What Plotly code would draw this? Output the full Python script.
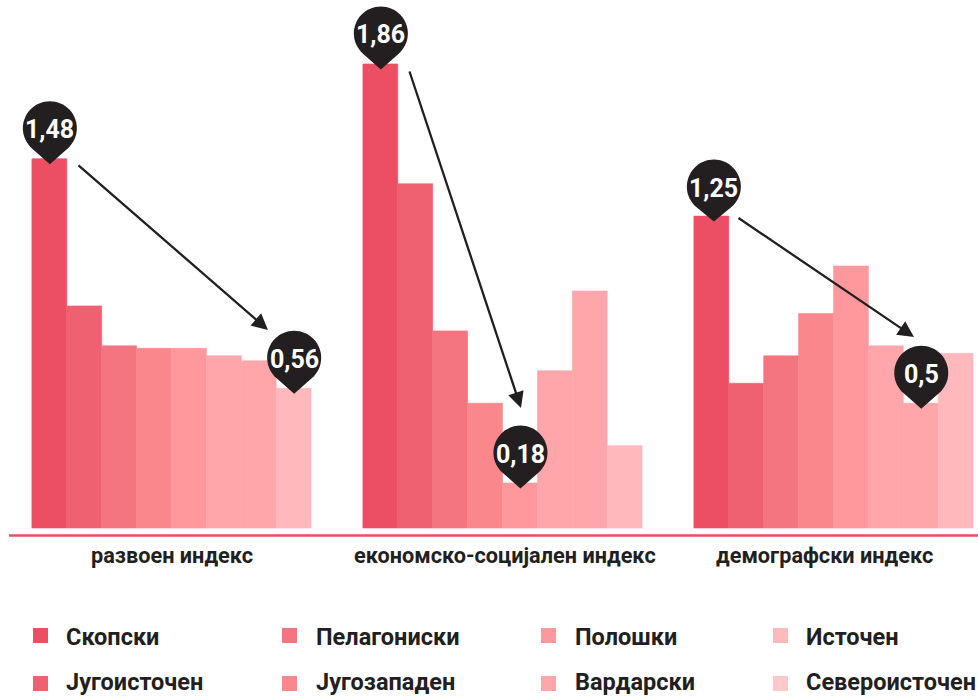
import math
import plotly.graph_objects as go

groups = ["развоен индекс", "економско-социјален индекс", "демографски индекс"]
series = ["Скопски", "Југоисточен", "Пелагониски", "Југозападен", "Полошки", "Вардарски", "Источен", "Североисточен"]
values = {
    "Скопски": [1.48, 1.86, 1.25],
    "Југоисточен": [0.89, 1.38, 0.58],
    "Пелагониски": [0.73, 0.79, 0.69],
    "Југозападен": [0.72, 0.50, 0.86],
    "Полошки": [0.72, 0.18, 1.05],
    "Вардарски": [0.69, 0.63, 0.73],
    "Источен": [0.67, 0.95, 0.50],
    "Североисточен": [0.56, 0.33, 0.70],
}
bar_colors = ["#ec4f64", "#ef6170", "#f4757f", "#fa878c", "#ff989d", "#ffa6ab", "#ffa6ab", "#ffb9bd"]
legend_colors = ["#ec4f64", "#ef6170", "#f4757f", "#fa878c", "#ff989d", "#ffa6ab", "#ffb9bd", "#ffc9cc"]
pins = [("Скопски", 0, "1,48", 0.5, 0), ("Североисточен", 0, "0,56", 0.5, 0), ("Скопски", 1, "1,86", 0.5, 0),
        ("Полошки", 1, "0,18", 0.5, 0), ("Скопски", 2, "1,25", 2.5, -1), ("Источен", 2, "0,5", 0.5, 0)]
arrows = [(77, 164, 268, 330), (409, 70, 521, 408), (737, 217, 914, 337)]

W, H = 978, 698
DARK = "#231f20"
FONT = "Roboto"
PX_UNIT = 249.5
BASE = 528
CAT = 331.0
C0 = 171.5
BW = 34.9

def fx(p): return p / W
def fy(p): return 1 - p / H

def pin_path(dx=0.0, dy=0.0, cy=30.5, r=27.0, tip=-5.5, n=6):
    # tangent points lie `comp` radians either side of straight down from the circle centre
    comp = math.acos(r / (cy - tip))
    step = (2 * math.pi - 2 * comp) / n
    ang = -math.pi / 2 + comp
    k = 4 / 3 * math.tan(step / 4)
    cy += dy
    x = r * math.cos(ang)
    y = cy + r * math.sin(ang)
    p = f"M {dx} {tip} L {x + dx:.2f} {y:.2f}"
    for _ in range(n):
        nxt = ang + step
        x1 = r * (math.cos(ang) - k * math.sin(ang))
        y1 = cy + r * (math.sin(ang) + k * math.cos(ang))
        x3 = r * math.cos(nxt)
        y3 = cy + r * math.sin(nxt)
        x2 = x3 + r * k * math.sin(nxt)
        y2 = y3 - r * k * math.cos(nxt)
        p += f" C {x1 + dx:.2f} {y1:.2f} {x2 + dx:.2f} {y2:.2f} {x3 + dx:.2f} {y3:.2f}"
        ang = nxt
    return p + " Z"

fig = go.Figure()
for s, c in zip(series, bar_colors):
    fig.add_bar(x=[0, 1, 2], y=values[s], name=s, marker=dict(color=c, line=dict(width=0.6, color=c)), showlegend=False)

shapes = [dict(type="line", xref="paper", yref="paper", x0=fx(9), x1=1, y0=fy(535.5), y1=fy(535.5),
               line=dict(color="#e94e62", width=2.5))]
annots = []

label_cx = [172, 505, 824]
for g, cx in zip(groups, label_cx):
    annots.append(dict(text=g, xref="paper", yref="paper", x=fx(cx), y=fy(555), xanchor="center", yanchor="middle",
                       showarrow=False, font=dict(family=FONT, size=21.7, color=DARK, weight="bold")))

cols = [33, 282, 541, 773]
txts = [64, 314, 573, 804]
rows = [635.5, 683.5]
text_bottom = [652.5, 698]
order = [0, 2, 4, 6, 1, 3, 5, 7]
for k, idx in enumerate(order):
    col = k % 4
    row = k // 4
    shapes.append(dict(type="rect", xref="paper", yref="paper", x0=fx(cols[col]), x1=fx(cols[col] + 15),
                       y0=fy(rows[row] - 7.5), y1=fy(rows[row] + 7.5), fillcolor=legend_colors[idx], line=dict(width=0)))
    annots.append(dict(text=series[idx], xref="paper", yref="paper", x=fx(txts[col]), y=fy(text_bottom[row]), xanchor="left",
                       yanchor="bottom", showarrow=False, font=dict(family=FONT, size=23.5, color=DARK, weight="bold")))

for s, g, lab, dx, dy in pins:
    i = series.index(s)
    xv = g + (i - 3.5) * BW / CAT
    yv = values[s][g]
    shapes.append(dict(type="path", xref="x", yref="y", xsizemode="pixel", ysizemode="pixel", xanchor=xv, yanchor=yv,
                       path=pin_path(dx, dy), fillcolor=DARK, line=dict(width=0)))
    annots.append(dict(text=lab, x=xv, y=yv, xref="x", yref="y", xanchor="center", yanchor="middle", yshift=29 + dy, xshift=dx,
                       showarrow=False, font=dict(family=FONT, size=25, color="white", weight="bold")))

for x0, y0, x1, y1 in arrows:
    annots.append(dict(text="", xref="paper", yref="paper", x=fx(x1), y=fy(y1), ax=x0 - x1, ay=y0 - y1,
                       showarrow=True, arrowhead=2, arrowsize=1.4, arrowwidth=2.3, arrowcolor=DARK, standoff=0))

fig.update_layout(
    width=W, height=H, margin=dict(l=0, r=0, t=0, b=0), barmode="group", bargap=1 - 8 * BW / CAT, bargroupgap=0,
    paper_bgcolor="white", plot_bgcolor="white", shapes=shapes, annotations=annots,
    xaxis=dict(range=[-C0 / CAT, (W - C0) / CAT], visible=False, fixedrange=True),
    yaxis=dict(range=[(BASE - H) / PX_UNIT, BASE / PX_UNIT], visible=False, fixedrange=True),
    showlegend=False,
)
fig.write_html("out.html", config={"displayModeBar": False},
               post_script="document.body.style.margin='0';")
